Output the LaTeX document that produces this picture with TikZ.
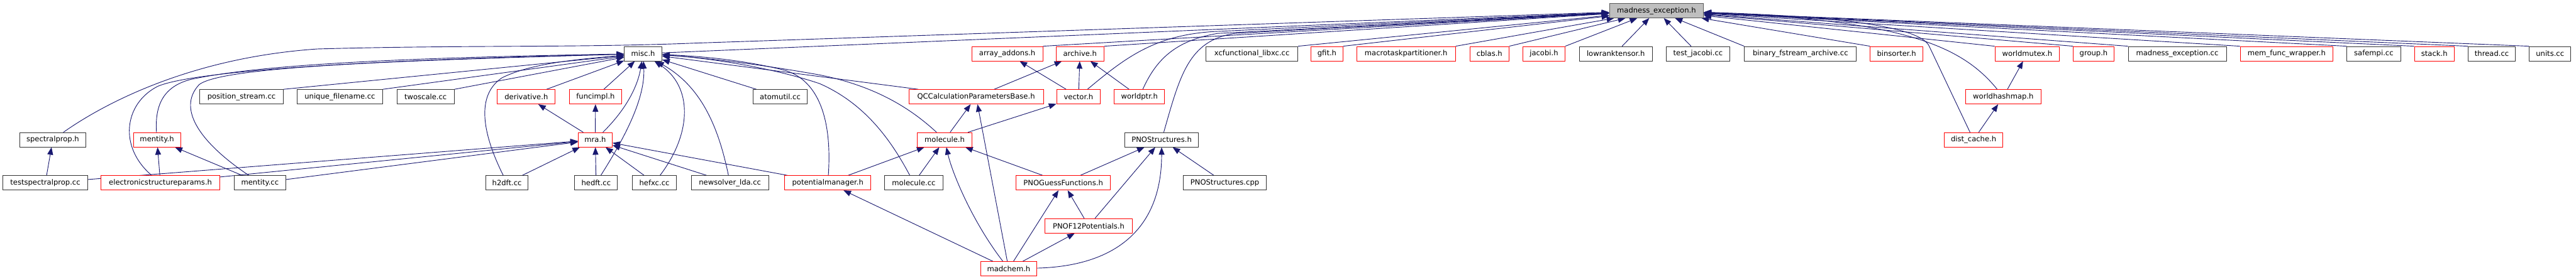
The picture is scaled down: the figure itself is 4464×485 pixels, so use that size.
\documentclass[tikz,border=0pt]{standalone}
\usepackage{fontspec}
\setmainfont{DejaVu Sans}
\usetikzlibrary{arrows.meta,backgrounds}
\definecolor{edgeblue}{RGB}{25,25,112}
\definecolor{truncred}{RGB}{255,0,0}
\tikzset{
  file/.style={draw=black!80, line width=1pt, fill=white, minimum height=25pt, inner sep=0pt, font=\fontsize{12.6}{15}\selectfont},
  trunc/.style={file, draw=truncred},
  focus/.style={file, draw=black!65, fill=black!25},
  dep/.style={-{Triangle[length=13pt,width=10pt]}, draw=edgeblue, line width=1pt},
}

\begin{document}
\begin{tikzpicture}[x=1pt, y=-1pt]
\useasboundingbox (0,0) rectangle (4464,485);

% the included file
\node[focus, minimum width=163pt] (mexc) at (2870.5,18.5) {madness\_exception.h};

% row 1
\node[file,  minimum width=65pt]  (misc)     at (1114.5,93.2) {misc.h};
\node[trunc, minimum width=123pt] (arradd)   at (1745.5,93.2) {array\_addons.h};
\node[trunc, minimum width=83pt]  (archive)  at (1871.5,93.2) {archive.h};
\node[file,  minimum width=159pt] (xcfun)    at (2169.5,93.2) {xcfunctional\_libxc.cc};
\node[trunc, minimum width=55pt]  (gfit)     at (2299.5,93.2) {gfit.h};
\node[trunc, minimum width=171pt] (mtpart)   at (2436.5,93.2) {macrotaskpartitioner.h};
\node[trunc, minimum width=68pt]  (cblas)    at (2581,93.2)   {cblas.h};
\node[trunc, minimum width=73pt]  (jacobi)   at (2675.5,93.2) {jacobi.h};
\node[file,  minimum width=126pt] (lowrank)  at (2800,93.2)   {lowranktensor.h};
\node[file,  minimum width=111pt] (testjac)  at (2942.5,93.2) {test\_jacobi.cc};
\node[file,  minimum width=194pt] (binfs)    at (3120,93.2)   {binary\_fstream\_archive.cc};
\node[trunc, minimum width=91pt]  (binsort)  at (3286.5,93.2) {binsorter.h};
\node[trunc, minimum width=112pt] (wmutex)   at (3513,93.2)   {worldmutex.h};
\node[trunc, minimum width=70pt]  (group)    at (3628,93.2)   {group.h};
\node[file,  minimum width=170pt] (mexccc)   at (3773,93.2)   {madness\_exception.cc};
\node[trunc, minimum width=161pt] (memfunc)  at (3962.5,93.2) {mem\_func\_wrapper.h};
\node[file,  minimum width=93pt]  (safempi)  at (4113.5,93.2) {safempi.cc};
\node[trunc, minimum width=69pt]  (stack)    at (4218.5,93.2) {stack.h};
\node[file,  minimum width=82pt]  (thread)   at (4318,93.2)   {thread.cc};
\node[file,  minimum width=72pt]  (units)    at (4419,93.2)   {units.cc};

% row 2
\node[file,  minimum width=145pt] (pstream)  at (418.5,168)  {position\_stream.cc};
\node[file,  minimum width=148pt] (ufname)   at (589,168)    {unique\_filename.cc};
\node[file,  minimum width=99pt]  (twoscale) at (737.5,168)  {twoscale.cc};
\node[trunc, minimum width=100pt] (deriv)    at (912,168)    {derivative.h};
\node[trunc, minimum width=90pt]  (funcimpl) at (1032,168)   {funcimpl.h};
\node[file,  minimum width=94pt]  (atomutil) at (1352,168)   {atomutil.cc};
\node[trunc, minimum width=233pt] (qccalc)   at (1691.5,168) {QCCalculationParametersBase.h};
\node[trunc, minimum width=76pt]  (vector)   at (1869,168)   {vector.h};
\node[trunc, minimum width=87pt]  (wptr)     at (1974.5,168) {worldptr.h};
\node[trunc, minimum width=131pt] (whash)    at (3471.5,168) {worldhashmap.h};

% row 3
\node[file,  minimum width=115pt] (spectral) at (91.5,242.6) {spectralprop.h};
\node[trunc, minimum width=82pt]  (menth)    at (272,242.6)  {mentity.h};
\node[trunc, minimum width=59pt]  (mra)      at (1031.5,242.6) {mra.h};
\node[trunc, minimum width=94pt]  (molh)     at (1637,242.6) {molecule.h};
\node[file,  minimum width=128pt] (pnos)     at (2013,242.6) {PNOStructures.h};
\node[trunc, minimum width=102pt] (distc)    at (3420,242.6) {dist\_cache.h};

% row 4
\node[file,  minimum width=147pt] (tsp)      at (78.5,317.4)  {testspectralprop.cc};
\node[trunc, minimum width=206pt] (esp)      at (278,317.4)   {electronicstructureparams.h};
\node[file,  minimum width=89pt]  (mentcc)   at (450.5,317.4) {mentity.cc};
\node[file,  minimum width=73pt]  (h2dft)    at (878.5,317.4) {h2dft.cc};
\node[file,  minimum width=74pt]  (hedft)    at (1033,317.4)  {hedft.cc};
\node[file,  minimum width=76pt]  (hefxc)    at (1134,317.4)  {hefxc.cc};
\node[file,  minimum width=134pt] (nslda)    at (1265,317.4)  {newsolver\_lda.cc};
\node[trunc, minimum width=149pt] (potm)     at (1434.5,317.4) {potentialmanager.h};
\node[file,  minimum width=101pt] (molcc)    at (1583.5,317.4) {molecule.cc};
\node[trunc, minimum width=163pt] (pnoguess) at (1842.5,317.4) {PNOGuessFunctions.h};
\node[file,  minimum width=143pt] (pnoscpp)  at (2122.5,317.4) {PNOStructures.cpp};

% rows 5 and 6
\node[trunc, minimum width=151pt] (pnof12)   at (1886.5,392)  {PNOF12Potentials.h};
\node[trunc, minimum width=98pt]  (madchem)  at (1748,466.7)  {madchem.h};

\begin{scope}[on background layer]
  % includes of madness_exception.h
  \draw[dep] (misc) -- (mexc);
  \foreach \src in {arradd, archive, xcfun, gfit, mtpart, cblas, jacobi}
    \draw[dep] (\src.north east) -- (mexc);
  \draw[dep] (lowrank.north) ++(11,0) -- (mexc);
  \draw[dep] (testjac.north) ++(-12,0) -- (mexc);
  \foreach \src in {binfs, binsort, wmutex, group, mexccc, memfunc, safempi, stack, thread, units}
    \draw[dep] (\src.north west) -- (mexc);
  \draw[dep] (spectral) .. controls (180,180) and (330,100) .. (550,85)
             .. controls (800,78) and (1000,83) .. (1200,75) -- (mexc);
  \draw[dep] (vector) .. controls (1950,100) and (2000,62) .. (2100,55) -- (mexc);
  \draw[dep] (wptr) .. controls (2005,100) and (2040,70) .. (2110,58) -- (mexc);
  \draw[dep] (pnos) .. controls (2045,130) and (2060,70) .. (2140,58) -- (mexc);
  \draw[dep] (whash) .. controls (3400,80) and (3300,35) .. (mexc);
  \draw[dep] (distc) -- (3343,80) .. controls (3330,52) and (3230,30) .. (mexc);

  % includes of misc.h
  \foreach \src in {pstream, ufname, twoscale}
    \draw[dep] (\src.north east) -- (misc);
  \foreach \src in {deriv, funcimpl, atomutil, qccalc}
    \draw[dep] (\src) -- (misc);
  \draw[dep] (esp) .. controls (205,255) and (215,180) .. (273,150)
             .. controls (330,125) and (600,105) .. (misc);
  \draw[dep] (menth) .. controls (268,180) and (285,150) .. (330,138)
             .. controls (450,112) and (700,100) .. (misc);
  \draw[dep] (mentcc) .. controls (350,250) and (305,190) .. (345,147)
             .. controls (385,115) and (700,105) .. (misc);
  \draw[dep] (h2dft) .. controls (835,230) and (825,165) .. (870,135)
             .. controls (920,110) and (1000,103) .. (misc);
  \draw[dep] (mra) .. controls (1085,190) and (1105,150) .. (misc);
  \draw[dep] (hedft) .. controls (1085,235) and (1118,170) .. (misc);
  \draw[dep] (hefxc) .. controls (1200,230) and (1200,150) .. (misc);
  \draw[dep] (nslda) .. controls (1245,220) and (1215,150) .. (misc);
  \draw[dep] (potm) .. controls (1442,210) and (1420,140) .. (1360,122)
             .. controls (1280,102) and (1200,97) .. (misc);
  \draw[dep] (molh) .. controls (1580,190) and (1520,150) .. (1420,130)
             .. controls (1320,112) and (1220,100) .. (misc);
  \draw[dep] (molcc) .. controls (1545,245) and (1500,180) .. (1420,145)
             .. controls (1330,115) and (1220,100) .. (misc);

  % includes of mra.h
  \foreach \src in {tsp, esp, mentcc, h2dft, hedft, hefxc, nslda, potm}
    \draw[dep] (\src) -- (mra);
  \draw[dep] (mra) -- (deriv);
  \draw[dep] (mra) -- (funcimpl);

  % left group
  \draw[dep] (tsp) -- (spectral);
  \draw[dep] (esp) -- (menth);
  \draw[dep] (mentcc) -- (menth);

  % molecule and friends
  \foreach \src in {potm, molcc, pnoguess}
    \draw[dep] (\src) -- (molh);
  \draw[dep] (madchem) .. controls (1685,385) and (1650,300) .. (molh);
  \draw[dep] (molh) -- (qccalc);
  \draw[dep] (molh) -- (vector);
  \draw[dep] (madchem) -- (qccalc);
  \draw[dep] (madchem) -- (potm);
  \foreach \src in {qccalc, vector, wptr}
    \draw[dep] (\src) -- (archive);
  \draw[dep] (vector) -- (arradd);

  % PNO files
  \foreach \src in {pnoguess, pnof12, pnoscpp}
    \draw[dep] (\src) -- (pnos);
  \draw[dep] (madchem) .. controls (1930,462) and (2013,400) .. (pnos);
  \draw[dep] (pnof12) -- (pnoguess);
  \draw[dep] (madchem) -- (pnoguess);
  \draw[dep] (madchem) -- (pnof12);

  % world containers
  \draw[dep] (whash) -- (wmutex);
  \draw[dep] (distc) -- (whash);
\end{scope}

\end{tikzpicture}
\end{document}
